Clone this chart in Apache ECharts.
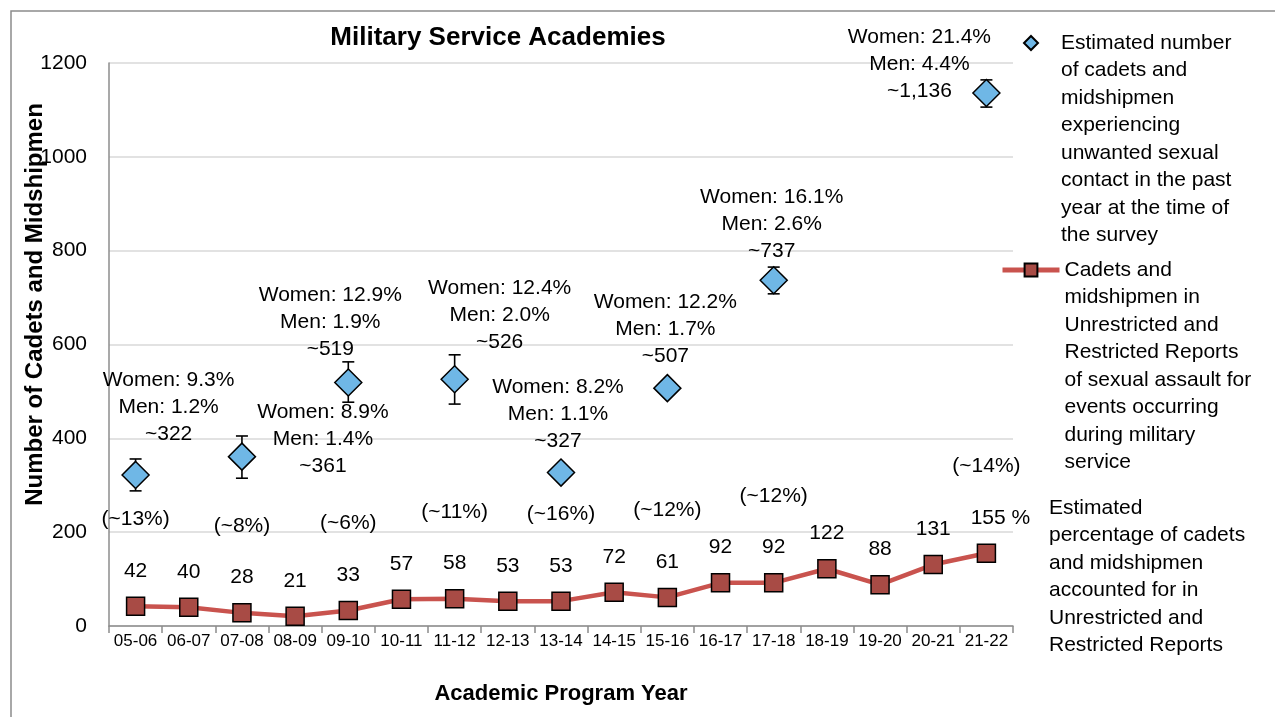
<!DOCTYPE html>
<html>
<head>
<meta charset="utf-8">
<script src="https://cdn.jsdelivr.net/npm/echarts@6/dist/echarts.min.js"></script>
<style>
html, body { margin:0; padding:0; background:#fff; }
#main { width:1275px; height:717px; }
</style>
</head>
<body>
<div id="main"></div>
<script>
// data
var years = ['05-06','06-07','07-08','08-09','09-10','10-11','11-12','12-13','13-14','14-15','15-16','16-17','17-18','18-19','19-20','20-21','21-22'];
var reports = [42, 40, 28, 21, 33, 57, 58, 53, 53, 72, 61, 92, 92, 122, 88, 131, 155];
var survey = [322, null, 361, null, 519, null, 526, null, 327, null, 507, null, 737, null, null, null, 1136];
var surveyLow = [288, null, 315, null, 477, null, 473, null, null, null, null, null, 708, null, null, null, 1106];
var surveyHigh = [356, null, 405, null, 563, null, 578, null, null, null, null, null, 765, null, null, null, 1164];
var womenRate = ['9.3%', null, '8.9%', null, '12.9%', null, '12.4%', null, '8.2%', null, '12.2%', null, '16.1%', null, null, null, '21.4%'];
var menRate = ['1.2%', null, '1.4%', null, '1.9%', null, '2.0%', null, '1.1%', null, '1.7%', null, '2.6%', null, null, null, '4.4%'];
var reportedShare = ['(~13%)', null, '(~8%)', null, '(~6%)', null, '(~11%)', null, '(~16%)', null, '(~12%)', null, '(~12%)', null, null, null, '(~14%)'];
var yMin = 0, yMax = 1200, yStep = 200;

var surveyName = 'Estimated number of cadets and midshipmen experiencing unwanted sexual contact in the past year at the time of the survey';
var reportName = 'Cadets and midshipmen in Unrestricted and Restricted Reports of sexual assault for events occurring during military service';
var shareName = 'Estimated percentage of cadets and midshipmen accounted for in Unrestricted and Restricted Reports';
var legendLines = {};
legendLines[surveyName] = ['Estimated number', 'of cadets and', 'midshipmen', 'experiencing', 'unwanted sexual', 'contact in the past', 'year at the time of', 'the survey'];
legendLines[reportName] = ['Cadets and', 'midshipmen in', 'Unrestricted and', 'Restricted Reports', 'of sexual assault for', 'events occurring', 'during military', 'service'];
legendLines[shareName] = ['Estimated', 'percentage of cadets', 'and midshipmen', 'accounted for in', 'Unrestricted and', 'Restricted Reports'];

// label placement (offset of each annotation block from its diamond)
var surveyLabelPos = [[33,-68], null, [81,-17], null, [-18,-60], null, [45,-64], null, [-3,-58], null, [-2,-59], null, [-2,-56], null, null, null, [-67,-29]];

var font = 'Liberation Sans, Arial, sans-serif';

// legend text hangs down from the icon: pad with blank lines above so the
// first real line sits on the icon's centre
function hangingText(n) {
  var lines = legendLines[n];
  var pad = [];
  for (var k = 1; k < lines.length; k++) pad.push('');
  return pad.concat(lines).join('\n');
}
function plainText(n) { return legendLines[n].join('\n'); }

var surveyData = survey.map(function (v, i) {
  if (v == null) return '-';
  return { value: v, label: { offset: surveyLabelPos[i] } };
});
var errorData = [];
surveyLow.forEach(function (lo, i) {
  if (lo != null) errorData.push([i, lo, surveyHigh[i]]);
});
var shareData = reportedShare.map(function (s, i) {
  return s == null ? '-' : reports[i];
});
var reportData = reports.map(function (v, i) {
  return i === reports.length - 1 ? { value: v, label: { offset: [14, 0] } } : v;
});

var myChart = echarts.init(document.getElementById('main'));
var option = {
  animation: false,
  backgroundColor: '#fff',
  title: {
    text: 'Military Service Academies',
    left: 493,
    top: 20,
    textAlign: 'center',
    textStyle: { fontFamily: font, fontSize: 26, fontWeight: 'bold', color: '#000' }
  },
  graphic: [{
    type: 'rect',
    shape: { x: 11, y: 11, width: 1400, height: 900 },
    style: { fill: 'none', stroke: '#8c8c8c', lineWidth: 1.5 },
    silent: true
  }],
  legend: [{
    data: [surveyName], left: 1023, top: -163.25, orient: 'vertical', padding: 0,
    itemWidth: 14, itemHeight: 14, selectedMode: false,
    formatter: hangingText,
    textStyle: { fontFamily: font, fontSize: 21, lineHeight: 27.5, color: '#000', padding: [0, 0, 0, 18] }
  }, {
    data: [reportName], left: 1000, top: 63.75, orient: 'vertical', padding: 0,
    itemWidth: 57, itemHeight: 16, selectedMode: false,
    lineStyle: { width: 5 },
    formatter: hangingText,
    textStyle: { fontFamily: font, fontSize: 21, lineHeight: 27.5, color: '#000' }
  }, {
    data: [shareName], left: 1044, top: 494, orient: 'vertical', padding: 0,
    itemWidth: 0, itemHeight: 14, icon: 'none', selectedMode: false,
    formatter: plainText,
    textStyle: { fontFamily: font, fontSize: 21, lineHeight: 27.5, color: '#000' }
  }],
  grid: { left: 109, right: 262, top: 63, bottom: 91, outerBoundsMode: 'none', containLabel: false },
  xAxis: {
    type: 'category',
    data: years,
    boundaryGap: true,
    name: 'Academic Program Year',
    nameLocation: 'middle',
    nameGap: 57,
    nameMoveOverlap: false,
    nameTextStyle: { fontFamily: font, fontSize: 22, fontWeight: 'bold', color: '#000' },
    axisLine: { lineStyle: { color: '#8c8c8c', width: 1.5 } },
    axisTick: { show: true, alignWithLabel: false, length: 7, lineStyle: { color: '#8c8c8c', width: 1.5 } },
    axisLabel: { interval: 0, margin: 7, fontFamily: font, fontSize: 17, color: '#000' },
    splitLine: { show: false }
  },
  yAxis: {
    type: 'value',
    min: yMin,
    max: yMax,
    interval: yStep,
    name: 'Number of Cadets and Midshipmen',
    nameLocation: 'middle',
    nameGap: 62,
    nameMoveOverlap: false,
    nameTextStyle: { fontFamily: font, fontSize: 24, fontWeight: 'bold', color: '#000', padding: [0, 0, 0, 80] },
    axisLine: { show: true, lineStyle: { color: '#8c8c8c', width: 1.5 } },
    axisTick: { show: false },
    axisLabel: { margin: 22, fontFamily: font, fontSize: 21, color: '#000', formatter: function (v) { return String(v); } },
    splitLine: { lineStyle: { color: '#d9d9d9', width: 1.5 } }
  },
  series: [{
    name: reportName,
    type: 'line',
    data: reportData,
    symbol: 'rect',
    symbolSize: 18,
    z: 3,
    lineStyle: { color: '#c9534e', width: 4.5 },
    itemStyle: { color: '#a84b45', borderColor: '#000', borderWidth: 1.5 },
    label: {
      show: true, position: 'top', distance: 15,
      fontFamily: font, fontSize: 21, color: '#000',
      formatter: function (p) { return p.dataIndex === years.length - 1 ? p.value + ' %' : p.value; }
    }
  }, {
    name: 'errors',
    type: 'custom',
    data: errorData,
    z: 4,
    encode: { x: 0, y: [1, 2] },
    renderItem: function (params, api) {
      var lo = api.coord([api.value(0), api.value(1)]);
      var hi = api.coord([api.value(0), api.value(2)]);
      var cap = 6;
      var st = { stroke: '#000', lineWidth: 1.6 };
      return {
        type: 'group',
        children: [
          { type: 'line', shape: { x1: lo[0], y1: lo[1], x2: hi[0], y2: hi[1] }, style: st },
          { type: 'line', shape: { x1: lo[0] - cap, y1: lo[1], x2: lo[0] + cap, y2: lo[1] }, style: st },
          { type: 'line', shape: { x1: hi[0] - cap, y1: hi[1], x2: hi[0] + cap, y2: hi[1] }, style: st }
        ]
      };
    }
  }, {
    name: surveyName,
    type: 'scatter',
    data: surveyData,
    symbol: 'diamond',
    symbolSize: 27,
    z: 5,
    itemStyle: { color: '#6fb7e6', borderColor: '#000', borderWidth: 1.5, opacity: 1 },
    label: {
      show: true, position: 'inside',
      fontFamily: font, fontSize: 21, lineHeight: 27, color: '#000', align: 'center',
      formatter: function (p) {
        var i = p.dataIndex;
        return 'Women: ' + womenRate[i] + '\nMen: ' + menRate[i] + '\n~' + p.value.toLocaleString('en-US');
      }
    }
  }, {
    name: shareName,
    type: 'scatter',
    data: shareData,
    symbolSize: 0,
    z: 5,
    itemStyle: { color: '#000', opacity: 1 },
    label: {
      show: true, position: 'inside', offset: [0, -87],
      fontFamily: font, fontSize: 21, color: '#000', textBorderWidth: 0,
      formatter: function (p) { return reportedShare[p.dataIndex]; }
    }
  }]
};
myChart.setOption(option);
</script>
</body>
</html>
